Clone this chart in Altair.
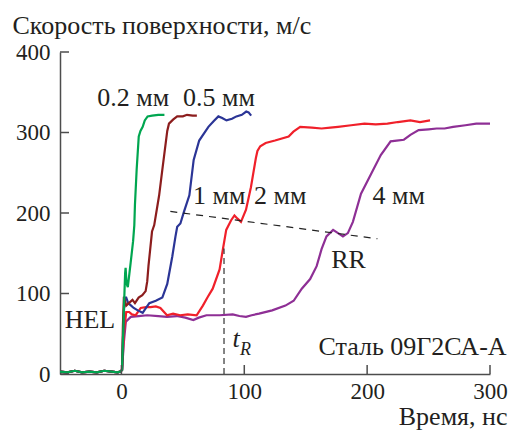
import altair as alt
import pandas as pd

# ---- data (time, ns ; velocity, m/s) ----
base_t = [-50, -44, -38, -32, -26, -20, -14, -8, -3, -1]
base_v = [3, 2, 4, 2, 3, 2, 4, 3, 2, 3]

green_t = [0.5, 2, 3, 3.4, 4.2, 5.2, 6.5, 7.5, 9.5, 10.5, 11, 12.4, 14.1, 15.5, 17.3, 19, 21.3, 25, 30, 35]
green_v = [5, 80, 125, 132, 112, 108, 125, 138, 165, 185, 210, 254, 295, 302, 307, 315, 320, 321, 322, 322]

dred_t = [0.5, 1.2, 2, 3.9, 6, 9, 11, 14, 17, 19.7, 21, 22, 24.9, 26.7, 30.7, 33.3, 37.3, 38.7, 42, 45.4, 50, 53.4, 58, 61.4]
dred_v = [5, 60, 96, 85, 88, 92, 88, 95, 98, 103, 115, 134, 177, 185, 222, 254, 302, 311, 316, 320, 320, 322, 321, 321]

blue_t = [0.5, 1.8, 2.6, 3.9, 5.5, 7.9, 10, 13.3, 17.3, 20, 22.7, 28, 33.3, 37.3, 41.4, 44, 45.4, 48, 50.8, 55.3, 58.8,
          63.3, 70.8, 75, 78.9, 82, 85.5, 90, 93.6, 98, 101.6, 103.5, 105.6]
blue_v = [5, 70, 95, 95, 88, 85, 82, 79, 76, 82, 88, 91, 95, 112, 146, 171, 183, 187, 201, 222, 266,
          290, 307, 314, 320, 318, 315, 317, 320, 322, 326, 325, 321]

red_t = [0.5, 2, 3.9, 6.3, 8.5, 11.6, 15.7, 20, 23.7, 28, 31.7, 37.1, 42, 47.8, 54, 61.2, 66.3, 70, 74.3, 79.9, 82.6,
         85.3, 89.3, 92, 94.5, 97.3, 101.4, 105.4, 109.4, 110.7, 113, 117.4, 125, 136.1, 140, 145.5, 155, 162.9,
         170, 176.3, 187, 197.8, 207, 216.5, 225, 235.2, 243, 251.2]
red_v = [5, 50, 77, 77, 74, 73, 82, 83, 83, 84, 82, 73, 75, 73, 74, 73, 85, 95, 106, 130, 155,
         179, 191, 197, 193, 189, 204, 232, 268, 277, 283, 287, 290, 295, 301, 307, 306, 305,
         306, 307, 309, 311, 310, 311, 313, 315, 313, 315]

purple_t = [0.5, 2, 3.6, 7.6, 14, 21, 30, 37.1, 45, 52, 58.5, 63, 69.2, 80, 90.6, 96, 101.4, 106, 112, 122.7, 133.5,
            140.2, 146.8, 153.6, 158.9, 162.9, 166.9, 172.3, 176.3, 180.3, 184.3, 188.4, 195, 203.1, 211.1, 219.1,
            224, 229.9, 235.2, 241.9, 250, 256.6, 263, 270, 280, 288.8, 295, 300]
purple_v = [5, 40, 65, 71, 72, 73, 72, 71, 72, 70, 67, 70, 73, 73, 74, 72, 71, 73, 75, 79, 85,
            91, 106, 118, 134, 155, 171, 179, 175, 171, 175, 189, 224, 248, 272, 289,
            290, 291, 297, 303, 304, 305, 305, 307, 309, 311, 311, 311]

series = [
    ("4 мм", purple_t, purple_v, "#8e2f95"),
    ("2 мм", red_t, red_v, "#f0202a"),
    ("1 мм", blue_t, blue_v, "#2b3596"),
    ("0.5 мм", dred_t, dred_v, "#8c1d1d"),
    ("0.2 мм", green_t, green_v, "#00a650"),
]

# dashed guide lines
rr_t = [39.8, 208.4]
rr_v = [202, 168]
tr_t = [83.5, 83.5]
tr_v = [0, 156]

x_ticks = [0, 100, 200, 300]
y_ticks = [0, 100, 200, 300, 400]

# annotation texts and their anchor values
ann_text = ["0.2 мм", "0.5 мм", "1 мм", "2 мм", "4 мм", "RR", "HEL"]
ann_t = [-19.7, 50.2, 58.2, 108, 204.4, 170.7, -46.2]
ann_v = [333, 333, 211, 211, 211, 132, 57]

FONT = "Liberation Serif"
INK = "#231f20"

xs = alt.Scale(domain=[-50, 300], nice=False, zero=False)
ys = alt.Scale(domain=[0, 400], nice=False)

W, H = 430, 322

layers = []
for name, t, v, col in series:
    df = pd.DataFrame({"t": base_t + t, "v": base_v + v, "s": name})
    layers.append(
        alt.Chart(df).mark_line(color=col, strokeWidth=2.2, clip=True).encode(
            x=alt.X("t:Q", scale=xs,
                    axis=alt.Axis(values=x_ticks, title="Время, нс", titleAlign="right",
                                  titleBaseline="alphabetic", titleX=447, titleY=50,
                                  labelPadding=6, labelFlush=False)),
            y=alt.Y("v:Q", scale=ys,
                    axis=alt.Axis(values=y_ticks, title="Скорость поверхности, м/с", titleAngle=0,
                                  titleAlign="left", titleBaseline="alphabetic", titleX=-48, titleY=-19,
                                  labelPadding=10, labelFlush=False)),
            order=alt.Order("t:Q"),
        )
    )

rr = alt.Chart(pd.DataFrame({"t": rr_t, "v": rr_v})).mark_line(
    color="#222", strokeWidth=1.2, strokeDash=[7, 6]).encode(x=alt.X("t:Q", scale=xs), y=alt.Y("v:Q", scale=ys))
tr = alt.Chart(pd.DataFrame({"t": tr_t, "v": tr_v})).mark_line(
    color="#333", strokeWidth=1.2, strokeDash=[6, 4]).encode(x=alt.X("t:Q", scale=xs), y=alt.Y("v:Q", scale=ys))

xtick = alt.Chart(pd.DataFrame({"t": x_ticks})).mark_rule(color="#4d4d4d", strokeWidth=1.5).encode(
    x=alt.X("t:Q", scale=xs), y=alt.value(H), y2=alt.value(H - 9))
ytick = alt.Chart(pd.DataFrame({"v": y_ticks})).mark_rule(color="#4d4d4d", strokeWidth=1.5).encode(
    y=alt.Y("v:Q", scale=ys), x=alt.value(0), x2=alt.value(9))

ann = alt.Chart(pd.DataFrame({"t": ann_t, "v": ann_v, "txt": ann_text})).mark_text(
    align="left", baseline="alphabetic", font=FONT, fontSize=26, color=INK).encode(
    x=alt.X("t:Q", scale=xs), y=alt.Y("v:Q", scale=ys), text="txt:N")

t_lbl = alt.Chart(pd.DataFrame({"t": [90.4], "v": [33], "txt": ["t"]})).mark_text(
    align="left", baseline="alphabetic", font=FONT, fontSize=26, fontStyle="italic", color=INK).encode(
    x=alt.X("t:Q", scale=xs), y=alt.Y("v:Q", scale=ys), text="txt:N")
r_lbl = alt.Chart(pd.DataFrame({"t": [96.5], "v": [23], "txt": ["R"]})).mark_text(
    align="left", baseline="alphabetic", font=FONT, fontSize=18, fontStyle="italic", color=INK).encode(
    x=alt.X("t:Q", scale=xs), y=alt.Y("v:Q", scale=ys), text="txt:N")
steel = alt.Chart(pd.DataFrame({"t": [313.5], "v": [24], "txt": ["Сталь 09Г2СА-А"]})).mark_text(
    align="right", baseline="alphabetic", font=FONT, fontSize=26, color=INK).encode(
    x=alt.X("t:Q", scale=xs), y=alt.Y("v:Q", scale=ys), text="txt:N")

chart = alt.layer(*layers, rr, tr, xtick, ytick, ann, t_lbl, r_lbl, steel).properties(
    width=W, height=H,
    autosize=alt.AutoSizeParams(type="none"),
    padding={"left": 52, "top": 44, "right": 19, "bottom": 56},
).configure_view(stroke=None).configure_axis(
    grid=False, ticks=False, labelFont=FONT, labelFontSize=23, labelColor=INK,
    titleFont=FONT, titleFontSize=26, titleFontWeight="normal", titleColor=INK,
    domainColor="#4d4d4d", domainWidth=1.5,
)

chart.save("out.html", embed_options={"renderer": "svg", "actions": False})
